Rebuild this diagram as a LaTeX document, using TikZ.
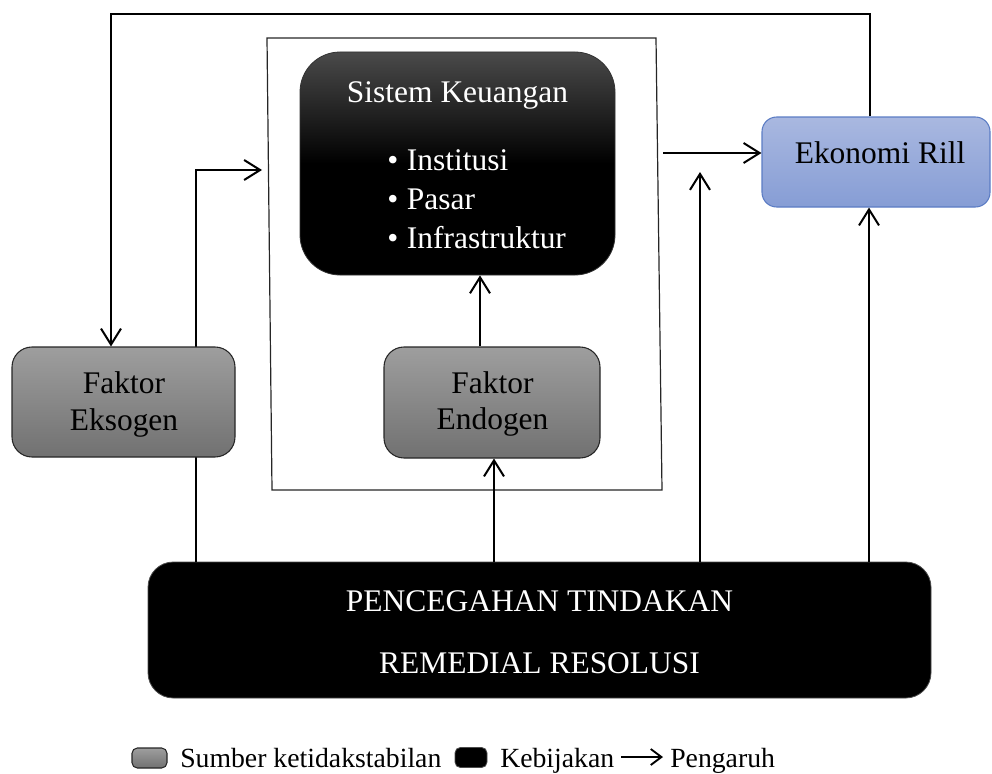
\documentclass[tikz,border=0pt]{standalone}
\usepackage{fontspec}
\setmainfont{Liberation Serif}
\usetikzlibrary{arrows.meta}
\definecolor{gtop}{HTML}{9E9E9E}
\definecolor{gbot}{HTML}{717171}
\definecolor{ktop}{HTML}{4A4A4A}
\definecolor{etop}{HTML}{A9B8E0}
\definecolor{ebot}{HTML}{869DD5}
\definecolor{eborder}{HTML}{5B7CC4}
\begin{document}
\begin{tikzpicture}[x=0.75pt,y=-0.75pt,
  every node/.style={font=\fontsize{23.6}{28}\selectfont},
  legendtext/.style={font=\fontsize{20.8}{24}\selectfont, anchor=base west, inner sep=0pt},
  conn/.style={line width=1.5pt, -{Straight Barb[length=12pt,width=15pt,line width=1.5pt]}},
  graybox/.style={draw=black!85, line width=0.8pt, rounded corners=15pt, top color=gtop, bottom color=gbot, inner sep=0pt},
  blackbox/.style={draw=black!70, line width=0.6pt, fill=black, inner sep=0pt},
  txt/.style={anchor=base, inner sep=0pt},
  wtxt/.style={anchor=base, inner sep=0pt, text=white},
  bultxt/.style={anchor=base west, inner sep=0pt, text=white}
]
\useasboundingbox (0,0) rectangle (992,774);

% frame
\draw[line width=0.9pt, black!85] (267,38) -- (656,38) -- (662,490) -- (272,490) -- cycle;

% Sistem Keuangan
\node[draw=black!80, line width=0.6pt, rounded corners=30pt, inner sep=0pt,
      top color=ktop, bottom color=black, middle color=black,
      minimum width=236.25pt, minimum height=167.25pt] (sk) at (457.5,163.5) {};
\node[wtxt] (skt) at (457.5,103) {Sistem Keuangan};
\node[bultxt] (sk1) at (387,170) {\textbullet\hspace{6.5pt}Institusi};
\node[bultxt] (sk2) at (387,209) {\textbullet\hspace{6.5pt}Pasar};
\node[bultxt] (sk3) at (387,248) {\textbullet\hspace{6.5pt}Infrastruktur};

% Ekonomi Rill
\node[draw=eborder, line width=0.8pt, rounded corners=11pt, inner sep=0pt,
      top color=etop, bottom color=ebot,
      minimum width=171pt, minimum height=67.5pt] (er) at (876,162) {};
\node[txt] (ert) at (880,163) {Ekonomi Rill};

% bottom policy box
\node[blackbox, rounded corners=19pt, minimum width=587.25pt, minimum height=102pt] (bb) at (539.5,630) {};
\node[wtxt] (bb1) at (539.5,611) {PENCEGAHAN TINDAKAN};
\node[wtxt] (bb2) at (539.5,673) {REMEDIAL RESOLUSI};

% connector behind Faktor Eksogen
\coordinate (exTurn) at (196,170);
\coordinate (exEnd) at (262,170);
\draw[conn] (bb.north -| exTurn) -- (exTurn) -- (exEnd);

% Faktor Eksogen
\node[graybox, minimum width=167.25pt, minimum height=82.5pt] (ex) at (123.5,402) {};
\node[txt] (ex1) at (124,393) {Faktor};
\node[txt] (ex2) at (124,430) {Eksogen};

% Faktor Endogen
\node[graybox, minimum width=162pt, minimum height=83.25pt] (en) at (492,402.5) {};
\node[txt] (en1) at (492.5,393) {Faktor};
\node[txt] (en2) at (492.5,429) {Endogen};

% connectors
\coordinate (topR) at (870,14);
\coordinate (topL) at (111,14);
\draw[conn] (er.north -| topR) -- (topR) -- (topL) -- (topL |- ex.north);

\coordinate (c480) at (480,0);
\draw[conn] (en.north -| c480) -- (sk.south -| c480);

\coordinate (c494) at (494,0);
\draw[conn] (bb.north -| c494) -- (en.south -| c494);

\coordinate (skOut) at (663,153);
\draw[conn] (skOut) -- (skOut -| er.west);

\coordinate (upEnd) at (700,172);
\draw[conn] (bb.north -| upEnd) -- (upEnd);

\coordinate (c869) at (869,0);
\draw[conn] (bb.north -| c869) -- (er.south -| c869);

% legend
\node[draw=black!85, line width=0.8pt, rounded corners=4pt, top color=gtop, bottom color=gbot,
      minimum width=26.25pt, minimum height=15pt, inner sep=0pt] (lg1) at (149.5,758) {};
\node[legendtext] (lg1t) at (180,767) {Sumber ketidakstabilan};
\node[blackbox, rounded corners=4pt, minimum width=24pt, minimum height=15pt] (lg2) at (471,757.5) {};
\node[legendtext] (lg2t) at (500,767) {Kebijakan};
\coordinate (la) at (621,757);
\coordinate (lb) at (663,757);
\draw[line width=1.4pt, -{Straight Barb[length=8pt,width=12pt,line width=1.4pt]}] (la) -- (lb);
\node[legendtext] (lg3t) at (670,767) {Pengaruh};
\end{tikzpicture}
\end{document}
